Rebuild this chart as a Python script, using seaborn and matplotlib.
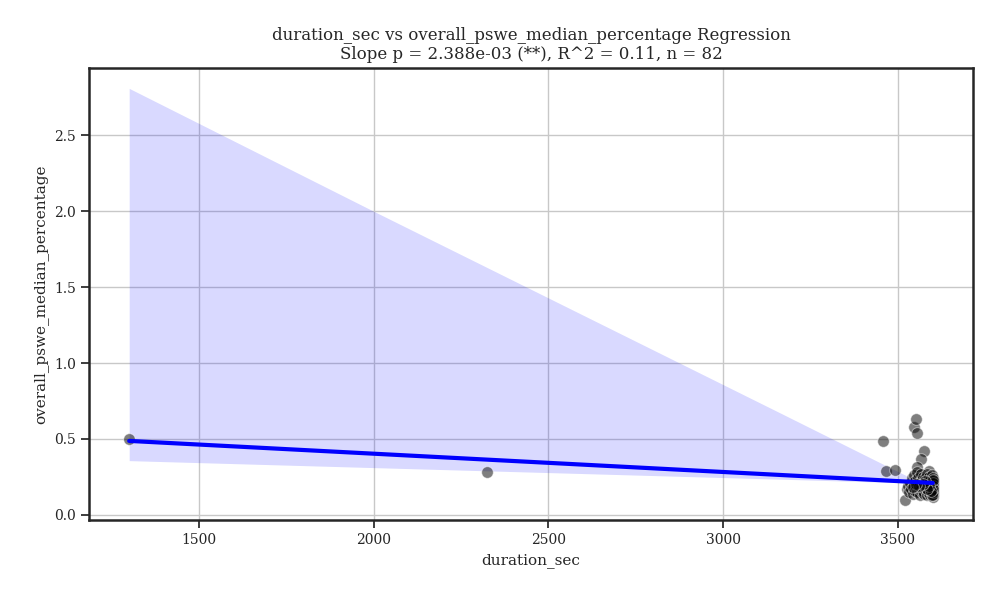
import matplotlib
matplotlib.use("Agg")
import matplotlib.pyplot as plt
import seaborn as sns
import pandas as pd

sns.set_theme(style="ticks", font="serif")
plt.rcParams["font.family"] = ["DejaVu Serif"]

duration_sec = [
    1300, 2325, 3458, 3465, 3491, 3546, 3553, 3555, 3576, 3565, 3555, 3589, 3519,
    3525, 3530, 3532, 3536, 3538, 3540, 3542, 3545, 3547, 3549, 3550, 3552, 3554,
    3556, 3557, 3559, 3560, 3562, 3563, 3565, 3566, 3568, 3569, 3570, 3572, 3573,
    3575, 3576, 3577, 3578, 3580, 3581, 3582, 3583, 3585, 3586, 3587, 3588, 3590,
    3591, 3592, 3593, 3595, 3596, 3597, 3598, 3599,
    3600, 3600, 3600, 3600, 3600, 3600, 3600, 3600, 3600, 3600, 3600, 3600, 3600,
    3598, 3594, 3589, 3584, 3579, 3571, 3561, 3551, 3543,
]
pswe_median_pct = [
    0.50, 0.28, 0.485, 0.287, 0.298, 0.577, 0.63, 0.54, 0.42, 0.368, 0.314, 0.29, 0.10,
    0.17, 0.19, 0.15, 0.21, 0.17, 0.24, 0.14, 0.19, 0.26, 0.16, 0.22, 0.18, 0.28,
    0.15, 0.20, 0.24, 0.17, 0.13, 0.21, 0.27, 0.18, 0.15, 0.23, 0.19, 0.25, 0.16,
    0.21, 0.14, 0.18, 0.24, 0.20, 0.16, 0.27, 0.13, 0.22, 0.18, 0.15, 0.25, 0.20,
    0.17, 0.13, 0.23, 0.19, 0.15, 0.21, 0.26, 0.17,
    0.12, 0.14, 0.16, 0.18, 0.20, 0.22, 0.24, 0.13, 0.15, 0.19, 0.21, 0.17, 0.23,
    0.13, 0.16, 0.19, 0.17, 0.22, 0.20, 0.19, 0.20, 0.18,
]

# fitted line and confidence band
fit_x = [1300, 3600]
fit_y = [0.487, 0.210]
ci_x = [1300, 2000, 3160, 3446, 3540, 3600]
ci_lower = [0.357, 0.311, 0.235, 0.216, 0.210, 0.206]
ci_upper = [2.81, 2.00, 0.675, 0.347, 0.240, 0.222]

df = pd.DataFrame({"duration_sec": duration_sec,
                   "overall_pswe_median_percentage": pswe_median_pct})

fig, ax = plt.subplots(figsize=(10, 6), dpi=100)
ax.fill_between(ci_x, ci_lower, ci_upper, color="blue", alpha=0.15, linewidth=0)
sns.scatterplot(data=df, x="duration_sec", y="overall_pswe_median_percentage",
                color="black", alpha=0.5, edgecolor="white", s=70, ax=ax)
ax.plot(fit_x, fit_y, color="blue", linewidth=3)

ax.grid(True, color="#c8c8c8", linewidth=1)
ax.set_title("duration_sec vs overall_pswe_median_percentage Regression\n"
             "Slope p = 2.388e-03 (**), R^2 = 0.11, n = 82", fontsize=12)
ax.set_xlabel("duration_sec", fontsize=11)
ax.set_ylabel("overall_pswe_median_percentage", fontsize=11)
ax.tick_params(labelsize=10)
for s in ax.spines.values():
    s.set_linewidth(1.8)
    s.set_color("#262626")

plt.subplots_adjust(left=0.089, right=0.973, top=0.887, bottom=0.133)
plt.savefig("out.png", dpi=100)
plt.close()
